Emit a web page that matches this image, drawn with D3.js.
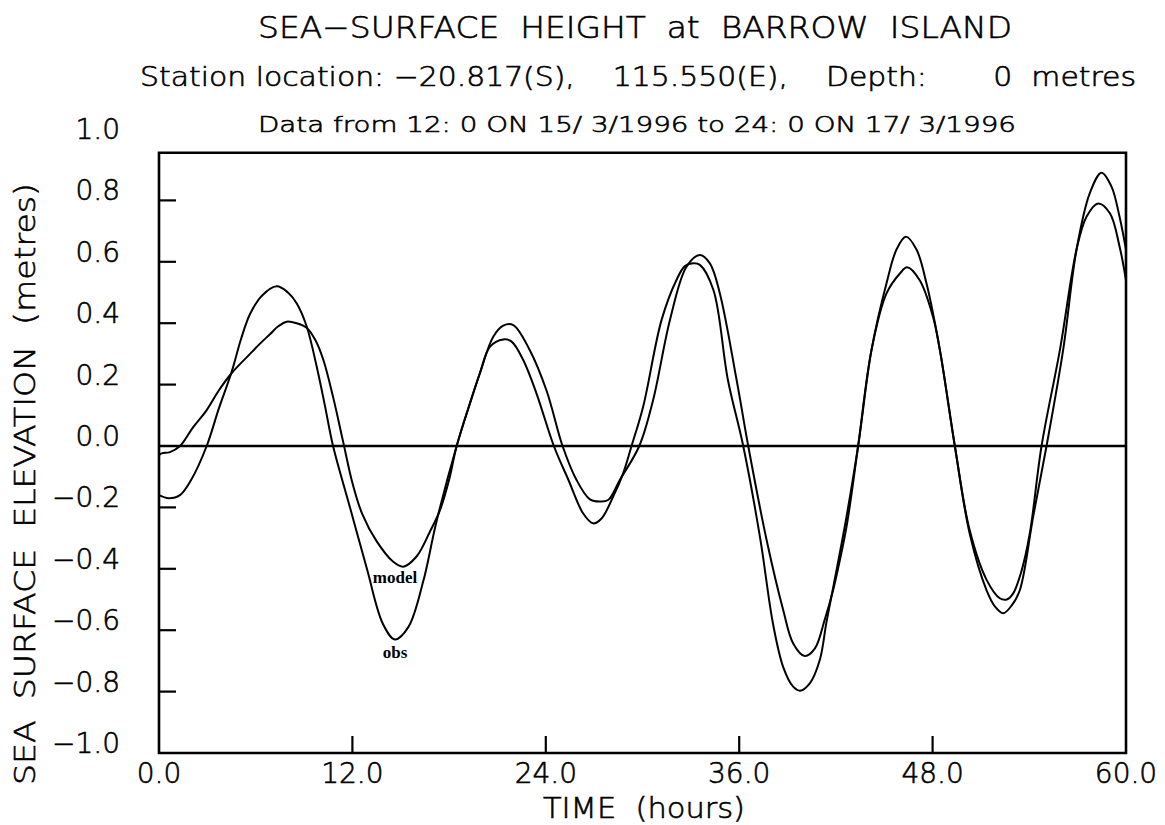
<!DOCTYPE html>
<html>
<head>
<meta charset="utf-8">
<script src="https://cdn.jsdelivr.net/npm/d3@7"></script>
<style>
  html, body { margin: 0; padding: 0; background: #fff; }
  svg { display: block; }
  text { fill: #000; white-space: pre; }
  text.hershey { stroke: #000; stroke-width: 0.6px; }
</style>
</head>
<body>
<svg id="chart" width="1165" height="825"></svg>
<script>
// Sea-surface height at Barrow Island, observed vs model (hours from 12:00 15/3/1996)
const obsHours = [0, 0.6, 1.3, 2.0, 2.96, 3.7, 4.5, 5.1, 5.65, 6.4, 7.3, 8.0, 8.54, 9.16, 9.78, 10.3, 10.8,
  11.85, 12.9, 13.9, 14.64, 15.47, 16.4, 17.2, 18.47, 19.3, 19.91, 20.53, 21.36, 21.88, 22.6, 23.43,
  24.5, 25.4, 26.32, 26.94, 27.46, 28.18, 28.8, 29.32, 30.04, 31.18, 32.1, 32.63, 33.15, 33.56, 34.4,
  35.3, 36.25, 37.3, 38.1, 38.73, 39.35, 39.77, 40.38, 41.0, 41.42, 42.04, 42.66, 43.38, 44.21, 45.14,
  45.76, 46.34, 47.0, 47.62, 48.45, 49.38, 50.3, 51.35, 51.9, 52.38, 52.9, 53.41, 54.24, 55.07, 56.1, 56.93, 57.75,
  58.48, 59.1, 59.6, 60.0];
const obsLevel = [-0.16, -0.17, -0.16, -0.11, 0.0, 0.12, 0.24, 0.35, 0.43, 0.49, 0.52, 0.50, 0.465, 0.39, 0.26, 0.13, 0.0,
  -0.20, -0.40, -0.58, -0.63, -0.59, -0.44, -0.25, 0.0, 0.14, 0.237, 0.323, 0.347, 0.34, 0.28, 0.17,
  0.0, -0.11, -0.22, -0.252, -0.236, -0.165, -0.089, 0.0, 0.128, 0.41, 0.54, 0.586, 0.595, 0.59, 0.508,
  0.215, 0.0, -0.30, -0.58, -0.72, -0.784, -0.797, -0.773, -0.697, -0.572, -0.404, -0.23, 0.0, 0.313, 0.53,
  0.64, 0.682, 0.64, 0.53, 0.313, 0.0, -0.285, -0.47, -0.525, -0.545, -0.52, -0.47, -0.23, 0.0, 0.313, 0.64, 0.823,
  0.89, 0.845, 0.747, 0.64];

const modelHours = [0, 0.17, 0.68, 1.3, 2.1, 2.96, 3.7, 4.5, 5.65, 6.3, 6.9, 7.4, 7.92, 8.54, 9.16, 9.7, 10.2, 10.8,
  11.4, 12.0, 12.6, 13.5, 14.53, 15.15, 15.98, 16.8, 17.43, 18.0, 18.47, 19.3, 19.91, 20.74, 21.36,
  21.98, 23.0, 24.05, 25.04, 25.9, 26.74, 27.36, 27.87, 28.6, 29.8, 30.66, 31.7, 32.73, 33.56, 34.18, 34.8,
  35.84, 36.56, 37.7, 38.73, 39.35, 40.07, 40.7, 41.3, 41.83, 42.25, 42.7, 43.38, 44.21, 45.14, 45.97, 46.42,
  47.2, 48.03, 48.45, 49.38, 50.3, 51.35, 52.17, 52.6, 53.0, 53.5, 54.03, 54.76, 55.9, 56.93, 57.55, 58.27, 59.0, 59.6, 60.0];
const modelLevel = [-0.03, -0.024, -0.02, 0.0, 0.06, 0.117, 0.18, 0.237, 0.30, 0.335, 0.365, 0.39, 0.405, 0.40, 0.385, 0.345, 0.28, 0.16,
  0.02, -0.12, -0.22, -0.31, -0.377, -0.393, -0.36, -0.28, -0.21, -0.11, 0.0, 0.14, 0.237, 0.356, 0.392,
  0.394, 0.313, 0.18, 0.0, -0.11, -0.174, -0.181, -0.176, -0.11, 0.0, 0.15, 0.41, 0.584, 0.622, 0.595, 0.497,
  0.215, 0.0, -0.306, -0.534, -0.643, -0.684, -0.659, -0.567, -0.469, -0.371, -0.25, 0.0, 0.313, 0.497, 0.562, 0.582,
  0.54, 0.42, 0.313, 0.0, -0.274, -0.436, -0.496, -0.50, -0.48, -0.41, -0.285, 0.0, 0.313, 0.64, 0.747, 0.79, 0.758, 0.65, 0.54];

const xTickValues = [0, 12, 24, 36, 48, 60];
const yTickValues = [-1.0, -0.8, -0.6, -0.4, -0.2, 0.0, 0.2, 0.4, 0.6, 0.8, 1.0];

const titleText = "SEA\u2212SURFACE  HEIGHT  at  BARROW  ISLAND";
const subtitleText = "Station location: \u221220.817(S),    115.550(E),    Depth:       0  metres";
const periodText = "Data from 12: 0 ON 15/ 3/1996 to 24: 0 ON 17/ 3/1996";
const xTitle = "TIME  (hours)";
const yTitle = "SEA  SURFACE  ELEVATION  (metres)";

const svg = d3.select("#chart");
const sans = "DejaVu Sans, sans-serif";
const sansWeight = 200;

const x = d3.scaleLinear().domain([0, 60]).range([159, 1126]);
const y = d3.scaleLinear().domain([-1, 1]).range([753, 139]);
const frameTop = y(0.955);

const fmt = v => (v < 0 ? "\u2212" : "") + Math.abs(v).toFixed(1);

// Plain stroked lettering used for all plot annotation
const label = (sel, size) => sel.attr("class", "hershey")
  .attr("font-family", sans).attr("font-weight", sansWeight).attr("font-size", size);

// Headings
svg.append("text").call(label, 31).attr("x", 635).attr("y", 38).attr("text-anchor", "middle")
  .attr("textLength", 754).attr("lengthAdjust", "spacingAndGlyphs").text(titleText);
svg.append("text").call(label, 26).attr("x", 638).attr("y", 86).attr("text-anchor", "middle")
  .attr("textLength", 996).attr("lengthAdjust", "spacingAndGlyphs").text(subtitleText);
svg.append("text").call(label, 22).attr("x", 637).attr("y", 132).attr("text-anchor", "middle")
  .attr("textLength", 758).attr("lengthAdjust", "spacingAndGlyphs").text(periodText);

// Frame
svg.append("path")
  .attr("d", `M${x(0)},${frameTop}H${x(60)}V${y(-1)}H${x(0)}Z`)
  .attr("fill", "none").attr("stroke", "#000").attr("stroke-width", 2.6);

// Zero line
svg.append("line").attr("x1", x(0)).attr("x2", x(60)).attr("y1", y(0)).attr("y2", y(0))
  .attr("stroke", "#000").attr("stroke-width", 2.4);

// Inward tick marks
const tickLen = 17;
svg.append("g").selectAll("line")
  .data(yTickValues.filter(v => Math.abs(v) > 1e-9 && Math.abs(v) < 0.99))
  .join("line")
  .attr("x1", x(0)).attr("x2", x(0) + tickLen)
  .attr("y1", d => y(d)).attr("y2", d => y(d))
  .attr("stroke", "#000").attr("stroke-width", 2.2);
svg.append("g").selectAll("line")
  .data(xTickValues.filter(v => v > 0 && v < 60))
  .join("line")
  .attr("x1", d => x(d)).attr("x2", d => x(d))
  .attr("y1", y(-1)).attr("y2", y(-1) - tickLen)
  .attr("stroke", "#000").attr("stroke-width", 2.2);

// Tick labels
svg.append("g").selectAll("text")
  .data(yTickValues)
  .join("text")
  .call(label, 28)
  .attr("x", 120).attr("y", d => y(d))
  .attr("text-anchor", "end")
  .text(fmt);
svg.append("g").selectAll("text")
  .data(xTickValues)
  .join("text")
  .call(label, 28)
  .attr("x", d => x(d)).attr("y", 783)
  .attr("text-anchor", "middle")
  .text(fmt);

// Axis titles
svg.append("text").call(label, 28).attr("x", 644).attr("y", 818).attr("text-anchor", "middle")
  .attr("textLength", 202).attr("lengthAdjust", "spacingAndGlyphs").text(xTitle);
svg.append("text").call(label, 28)
  .attr("transform", "translate(35,484) rotate(-90)")
  .attr("text-anchor", "middle")
  .attr("textLength", 602).attr("lengthAdjust", "spacingAndGlyphs").text(yTitle);

// Series
const line = d3.line()
  .x(d => x(d[0]))
  .y(d => y(d[1]))
  .curve(d3.curveCatmullRom.alpha(0.5));

const series = [
  { name: "obs", pts: d3.zip(obsHours, obsLevel) },
  { name: "model", pts: d3.zip(modelHours, modelLevel) }
];
svg.append("g").selectAll("path")
  .data(series)
  .join("path")
  .attr("d", d => line(d.pts))
  .attr("fill", "none")
  .attr("stroke", "#000")
  .attr("stroke-width", 2)
  .attr("stroke-linejoin", "round");

// Curve labels beneath the first low water
const serif = "Liberation Serif, Times New Roman, serif";
svg.append("text").attr("x", 395).attr("y", 583).attr("text-anchor", "middle")
  .attr("font-family", serif).attr("font-size", 17).attr("font-weight", "bold").text("model");
svg.append("text").attr("x", 395).attr("y", 658).attr("text-anchor", "middle")
  .attr("font-family", serif).attr("font-size", 17).attr("font-weight", "bold").text("obs");
</script>
</body>
</html>
